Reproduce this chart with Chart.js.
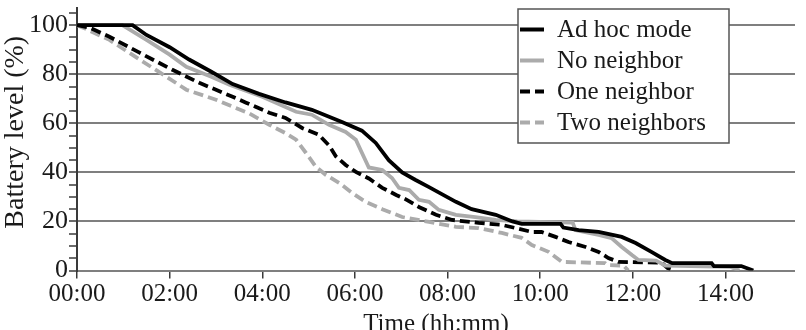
<!DOCTYPE html>
<html>
<head>
<meta charset="utf-8">
<script src="https://cdn.jsdelivr.net/npm/chart.js@4.4.1/dist/chart.umd.min.js"></script>
<style>
  html, body { margin: 0; padding: 0; background: #fff; }
  #wrap { width: 806px; height: 330px; }
</style>
</head>
<body>
<div id="wrap"><canvas id="c" width="806" height="330"></canvas></div>
<script>
// ---- Data (time in hours, battery level in %) ----
const seriesLabels = ['Ad hoc mode', 'No neighbor', 'One neighbor', 'Two neighbors'];

const adHocTime  = [0, 1.2, 1.5, 2.0, 2.42, 2.9, 3.36, 3.93, 4.5, 5.07, 5.72, 6.15, 6.45, 6.73, 7.02, 7.3, 7.6, 8.18, 8.52, 9.04, 9.4, 9.6, 10.44, 10.5, 10.83, 11.26, 11.76, 12.06, 12.4, 12.7, 12.85, 13.7, 13.75, 14.34, 14.6];
const adHocLevel = [100, 100, 96, 91, 86, 81, 76, 72, 68.5, 65.5, 60.5, 57, 52, 45, 40, 37, 34, 28, 25, 22.7, 20, 19, 19, 17.5, 16.5, 15.7, 13.7, 11.2, 7.6, 4.3, 3, 3, 1.8, 1.8, 0];

const noNbTime  = [0, 0.98, 1.5, 2.0, 2.36, 2.9, 3.29, 4.0, 4.73, 5.07, 5.44, 5.8, 6.02, 6.15, 6.3, 6.59, 6.8, 6.95, 7.17, 7.38, 7.6, 7.81, 8.18, 8.6, 9.04, 9.5, 10.7, 10.76, 11.26, 11.54, 11.76, 11.98, 12.12, 12.5, 12.7, 14.1, 14.3];
const noNbLevel = [100, 100, 94, 88, 83, 79, 75.7, 70.8, 64.7, 63.5, 59.4, 56.5, 53.3, 48, 42, 41, 37.7, 33.7, 32.8, 28.8, 28, 24.7, 22.7, 21.8, 20.6, 20, 19.5, 16.5, 14.5, 13.2, 9.6, 6.3, 4.3, 4, 2, 1.5, 0];

const oneNbTime  = [0, 0.27, 0.7, 1.35, 2.06, 2.64, 3.36, 3.65, 4.15, 4.5, 4.86, 5.22, 5.44, 5.59, 5.8, 6.02, 6.3, 6.59, 6.89, 7.1, 7.38, 7.75, 8.1, 8.67, 9.17, 9.47, 9.82, 10.03, 10.33, 10.61, 10.98, 11.26, 11.47, 11.69, 12.62, 12.75, 12.9];
const oneNbLevel = [100, 99, 95.3, 88.8, 81.8, 76.5, 70.8, 68.4, 64.3, 62.2, 58.1, 55.3, 51, 46.5, 43, 40.2, 37.5, 33.7, 30.8, 29, 25.9, 22.7, 20.6, 19.4, 18.6, 17.3, 15.7, 15.7, 13.7, 11.6, 9.6, 7.6, 5.1, 3.5, 3.2, 1, 0];

const twoNbTime  = [0, 0.13, 0.7, 1.35, 1.93, 2.36, 3.0, 3.72, 4.15, 4.5, 4.73, 4.94, 5.16, 5.37, 5.66, 5.94, 6.23, 6.59, 7.02, 7.6, 8.18, 8.67, 9.17, 9.6, 9.82, 10.18, 10.47, 11.4, 11.45, 11.8, 11.9];
const twoNbLevel = [100, 99, 94, 86, 79, 73.7, 69.6, 64, 59.4, 56, 53.3, 48, 42.2, 39, 35.7, 31.6, 28, 25, 21.8, 19.8, 17.8, 17.3, 15.3, 13.3, 10.4, 7.6, 3.5, 3, 2.2, 2, 0];

const xTickHours = [0, 2, 4, 6, 8, 10, 12, 14];
const yTickLabels = [0, 20, 40, 60, 80, 100];

// ---- Styling ----
const FONT = "'Liberation Serif', 'Times New Roman', serif";
const BLACK = '#000000';
const GRAY = '#ababab';
const GRID = '#7f7f7f';
const AXIS = '#3a3a3a';
const TEXT = '#1a1a1a';

function toPoints(xs, ys) { return xs.map((x, i) => ({ x: x, y: ys[i] })); }
function hhmm(v) {
  const h = Math.floor(v + 1e-9);
  const m = Math.round((v - h) * 60);
  return String(h).padStart(2, '0') + ':' + String(m).padStart(2, '0');
}

const datasets = [
  { label: seriesLabels[0], data: toPoints(adHocTime, adHocLevel), borderColor: BLACK, borderDash: [] },
  { label: seriesLabels[1], data: toPoints(noNbTime, noNbLevel), borderColor: GRAY, borderDash: [] },
  { label: seriesLabels[2], data: toPoints(oneNbTime, oneNbLevel), borderColor: BLACK, borderDash: [10, 5] },
  { label: seriesLabels[3], data: toPoints(twoNbTime, twoNbLevel), borderColor: GRAY, borderDash: [10, 5] }
].map(d => Object.assign(d, {
  borderWidth: 3.8, pointRadius: 0, tension: 0, fill: false, borderJoinStyle: 'miter', borderCapStyle: 'butt'
}));

// Legend box drawn inside the plot area
const boxLegend = {
  id: 'boxLegend',
  afterDraw(chart) {
    const ctx = chart.ctx;
    const L = 518, T = 9, W = 211, H = 134;
    ctx.save();
    ctx.fillStyle = '#fff';
    ctx.fillRect(L, T, W, H);
    ctx.strokeStyle = '#555';
    ctx.lineWidth = 1.5;
    ctx.strokeRect(L, T, W, H);
    ctx.font = '25px ' + FONT;
    ctx.textBaseline = 'middle';
    ctx.textAlign = 'left';
    chart.data.datasets.forEach((ds, i) => {
      const y = T + 20.5 + i * 31;
      ctx.beginPath();
      ctx.setLineDash(ds.borderDash || []);
      ctx.strokeStyle = ds.borderColor;
      ctx.lineWidth = 4;
      ctx.moveTo(L + 2, y);
      ctx.lineTo(L + 26, y);
      ctx.stroke();
      ctx.setLineDash([]);
      ctx.fillStyle = TEXT;
      ctx.fillText(ds.label, L + 39, y + 1);
    });
    ctx.restore();
  }
};

new Chart(document.getElementById('c'), {
  type: 'line',
  data: { datasets: datasets },
  plugins: [boxLegend],
  options: {
    responsive: false,
    animation: false,
    devicePixelRatio: 1,
    layout: { padding: { top: 8, right: 11, left: 0, bottom: 0 } },
    plugins: { legend: { display: false }, tooltip: { enabled: false } },
    scales: {
      x: {
        type: 'linear',
        min: 0, max: 15.5,
        afterBuildTicks(axis) { axis.ticks = xTickHours.map(v => ({ value: v })); },
        afterFit(axis) { axis.height = 59.5; axis.paddingLeft = 0; axis.paddingRight = 0; },
        border: { display: false },
        grid: { drawOnChartArea: false, drawTicks: true, tickLength: 8, tickColor: AXIS, lineWidth: 1.5 },
        ticks: {
          color: TEXT, padding: 1, maxRotation: 0, autoSkip: false,
          font: { family: FONT, size: 25 },
          callback: (v) => hhmm(v)
        },
        title: {
          display: true, text: 'Time (hh:mm)', color: TEXT,
          font: { family: FONT, size: 25, lineHeight: 0.45 }, padding: 0
        }
      },
      y: {
        min: 0, max: 107,
        afterBuildTicks(axis) {
          const t = [];
          for (let v = 0; v <= 105; v += 5) t.push({ value: v });
          axis.ticks = t;
        },
        afterFit(axis) { axis.width = 77; axis.paddingTop = 0; axis.paddingBottom = 0; },
        border: { display: true, color: AXIS, width: 2 },
        grid: {
          drawTicks: true, tickLength: 8, tickColor: AXIS, tickWidth: 1.5,
          color: (c) => (c.tick && c.tick.value % 20 === 0 && c.tick.value <= 100) ? GRID : 'rgba(0,0,0,0)',
          lineWidth: 2
        },
        ticks: {
          color: TEXT, padding: 1, autoSkip: false,
          font: { family: FONT, size: 26 },
          callback: (v) => (yTickLabels.indexOf(v) >= 0 ? String(v) : '')
        },
        title: {
          display: true, text: '  Battery level (%)', color: TEXT,
          font: { family: FONT, size: 28, lineHeight: 1.1 }, padding: 0
        }
      }
    }
  }
});
</script>
</body>
</html>
